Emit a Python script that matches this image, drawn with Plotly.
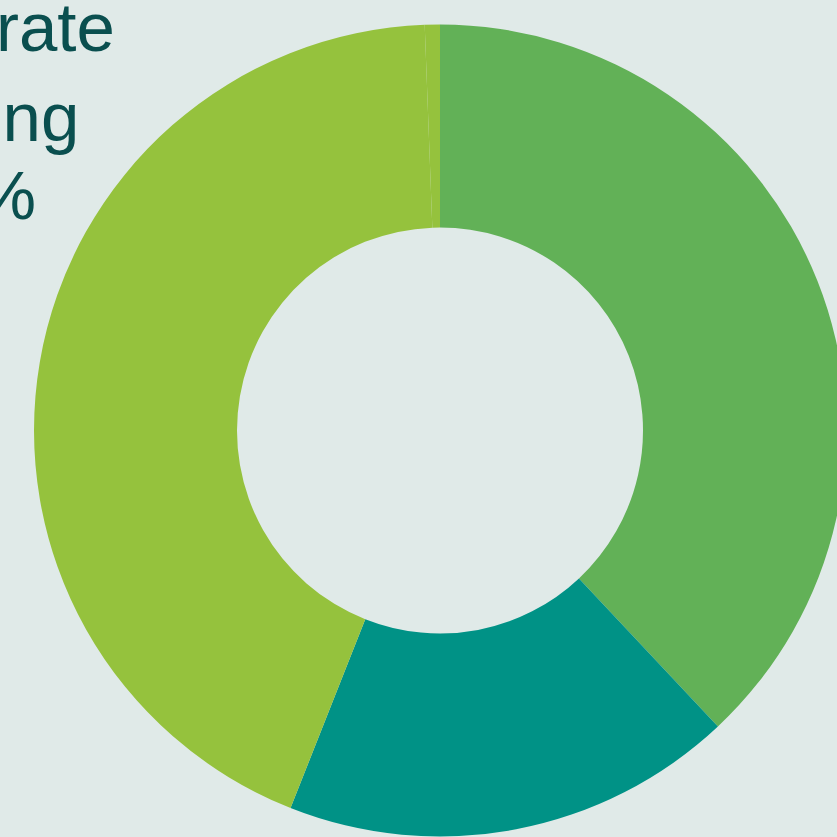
import plotly.graph_objects as go

# Data
segments = ["Segment A", "Segment B", "Corporate Banking", "Other"]
shares = [38.0, 18.0, 43.4, 0.6]
colors = ["#62B157", "#009286", "#95C23D", "#95C23D"]

label_lines = ["Corporate", "Banking", "43%"]

W, H = 900, 900
cx, cy, R = 440, 430.5, 406

fig = go.Figure(
    go.Pie(
        labels=segments,
        values=shares,
        hole=0.5,
        sort=False,
        direction="clockwise",
        rotation=0,
        textinfo="none",
        hoverinfo="label+percent",
        marker=dict(colors=colors, line=dict(width=0)),
        domain=dict(
            x=[(cx - R) / W, (cx + R) / W],
            y=[(H - cy - R) / H, (H - cy + R) / H],
        ),
        showlegend=False,
    )
)

# text block (partly off-canvas on the left)
right_edges = [117, 81, 38]
mid_y = [28, 117, 196]
for txt, rx, my in zip(label_lines, right_edges, mid_y):
    fig.add_annotation(
        text=txt,
        xref="paper", yref="paper",
        x=rx / W, y=1 - my / H,
        xanchor="right", yanchor="middle",
        showarrow=False,
        font=dict(family="Liberation Sans, Arial, sans-serif", size=69, color="#0A4F4F"),
    )

fig.update_layout(
    width=W, height=H,
    margin=dict(l=0, r=0, t=0, b=0),
    paper_bgcolor="#E0EAE8",
    plot_bgcolor="#E0EAE8",
)

fig.write_html(
    "out.html",
    config={"displayModeBar": False},
    post_script="document.body.style.margin='0';document.body.style.overflow='hidden';document.documentElement.style.overflow='hidden';",
)
